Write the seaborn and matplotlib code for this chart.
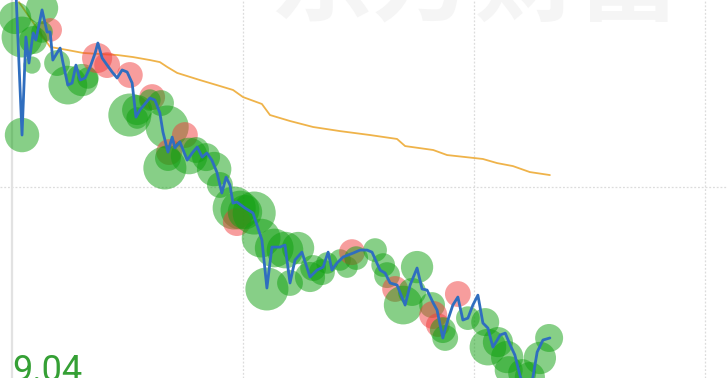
import matplotlib
matplotlib.use("Agg")
import matplotlib.pyplot as plt
import seaborn as sns
import pandas as pd

# ---- data (day index, price) ----
price_days = [1.0, 2.6, 3.6, 4.4, 5.5, 6.2, 7.8, 9.1, 9.9, 10.6, 11.7, 12.5, 13.2, 14.5, 15.6,
              16.6, 17.7, 19.0, 20.3, 21.6, 22.3, 23.4, 24.7, 26.0, 27.3, 28.6, 29.9, 31.2,
              32.2, 33.2, 34.3, 35.8, 37.1, 38.4, 39.2, 40.5, 41.6, 42.3, 43.6, 45.5, 46.8,
              48.1, 49.4, 50.6, 51.9, 53.2, 54.5, 55.6, 56.6, 57.4, 58.4, 60.5, 62.6, 64.9,
              66.2, 67.5, 69.6, 70.9, 72.2, 73.5, 75.3, 77.4, 79.2, 80.8, 82.1, 83.1, 84.4,
              86.0, 88.6, 90.4, 92.2, 93.5, 95.6, 96.9, 98.2, 100.0, 102.1, 103.4, 105.2,
              106.5, 107.8, 109.4, 110.4, 111.9, 113.2, 114.5, 115.8, 117.1, 118.4, 119.7,
              121.0, 122.3, 123.6, 124.9, 126.8, 128.1, 129.4, 130.6, 131.9, 133.5, 135.3,
              136.4, 137.9, 139.7]
price_close = [11.053, 10.278, 10.802, 10.663, 10.824, 10.786, 10.947, 10.829, 10.829, 10.679,
               10.717, 10.743, 10.668, 10.545, 10.556, 10.652, 10.572, 10.583, 10.642, 10.717,
               10.770, 10.690, 10.652, 10.615, 10.583, 10.626, 10.615, 10.556, 10.374, 10.412,
               10.439, 10.476, 10.465, 10.396, 10.294, 10.187, 10.267, 10.209, 10.241, 10.144,
               10.182, 10.214, 10.160, 10.182, 10.144, 10.080, 9.968, 10.053, 10.011, 9.914,
               9.920, 9.888, 9.861, 9.717, 9.460, 9.679, 9.679, 9.690, 9.487, 9.610, 9.652,
               9.519, 9.556, 9.572, 9.652, 9.556, 9.594, 9.626, 9.647, 9.663, 9.663, 9.652,
               9.556, 9.540, 9.487, 9.476, 9.369, 9.476, 9.567, 9.455, 9.449, 9.380, 9.342,
               9.193, 9.289, 9.369, 9.412, 9.289, 9.299, 9.369, 9.422, 9.273, 9.246, 9.144,
               9.209, 9.219, 9.155, 9.102, 8.995, 8.888, 8.984, 9.118, 9.182, 9.193]

ma_days = [1.8, 9.9, 14.3, 18.4, 22.9, 27.3, 31.4, 35.8, 38.4, 40.3, 42.9, 48.8, 53.2, 57.4,
           60.0, 64.9, 67.0, 72.2, 78.2, 85.2, 93.0, 100.0, 102.1, 109.4, 113.0, 122.3, 126.0,
           130.1, 134.5, 139.7]
ma_price = [10.989, 10.749, 10.733, 10.717, 10.711, 10.706, 10.695, 10.679, 10.668, 10.642,
            10.610, 10.572, 10.545, 10.519, 10.481, 10.444, 10.385, 10.353, 10.321, 10.299,
            10.278, 10.257, 10.219, 10.198, 10.171, 10.150, 10.128, 10.112, 10.080, 10.064]

bubble_days = [0.8, 7.8, 2.6, 5.2, 2.6, 9.9, 7.8, 5.5, 11.7, 14.5, 18.2, 19.7, 22.1, 24.7,
               30.6, 30.6, 32.5, 36.4, 38.7, 40.3, 44.9, 40.8, 39.7, 40.5, 46.0, 50.4, 52.5,
               57.7, 59.2, 58.4, 62.9, 64.7, 68.1, 70.9, 74.3, 66.2, 72.2, 77.4, 78.2, 81.8,
               85.2, 87.0, 88.3, 89.4, 94.3, 97.4, 99.5, 101.6, 105.2, 109.1, 109.4, 110.6,
               112.5, 115.8, 118.4, 122.9, 123.6, 128.6, 132.5, 134.5, 137.1, 139.5,
               54.0, 60.5, 80.5, 96.4, 103.9, 111.9, 126.2, 129.0, 32.5, 47.8, 35.8]
bubble_price = [10.904, 10.957, 10.802, 10.652, 10.278, 10.840, 10.829, 10.786, 10.663, 10.545,
                10.572, 10.583, 10.690, 10.652, 10.599, 10.385, 10.369, 10.481, 10.449, 10.321,
                10.278, 10.187, 10.102, 10.155, 10.166, 10.160, 10.096, 9.888, 9.877, 9.813,
                9.861, 9.727, 9.674, 9.663, 9.674, 9.455, 9.487, 9.519, 9.567, 9.594, 9.610,
                9.572, 9.652, 9.620, 9.663, 9.529, 9.455, 9.369, 9.572, 9.369, 9.316, 9.262,
                9.193, 9.428, 9.299, 9.278, 9.144, 9.091, 9.005, 8.984, 9.086, 9.193,
                10.011, 9.866, 9.545, 9.583, 9.439, 9.235, 9.171, 9.021, 10.412, 10.198, 10.465]
bubble_volume = [2250, 2250, 3610, 640, 2560, 1210, 1000, 1690, 1440, 3240, 2250, 1000, 1960,
                 1440, 1440, 4000, 1000, 1440, 1440, 4000, 1440, 1440, 4000, 1440, 2890, 1690,
                 2560, 4000, 3240, 1690, 4000, 3240, 3240, 2890, 2250, 4000, 1440, 1960, 1440,
                 1000, 1000, 1000, 1440, 1210, 1210, 1440, 1440, 3240, 2250, 1440, 1690, 1210,
                 1440, 1440, 1210, 1690, 2890, 2250, 1690, 1960, 2250, 1690,
                 1440, 2560, 1440, 1210, 1690, 1440, 1960, 1690, 1960, 1440, 1000]
bubble_dir = ["down", "down", "down", "down", "down", "up", "down", "down", "down", "down",
              "down", "down", "up", "up", "up", "down", "down", "up", "down", "down",
              "up", "up", "down", "down", "down", "down", "down", "down", "down", "up",
              "down", "down", "down", "down", "down", "down", "down", "down", "down", "down",
              "down", "down", "up", "down", "down", "down", "up", "down", "down", "down",
              "up", "up", "down", "up", "down", "down", "down", "down", "down", "down",
              "down", "down",
              "down", "down", "down", "down", "down", "down", "down", "down", "down", "down",
              "down"]

grid_days = [60, 120, 180]
grid_price = [10.0]
low_label = "9.04"
watermark = "东方财富"

# ---- figure ----
sns.set_theme(style="white")
plt.rcParams["font.family"] = ["Noto Sans CJK SC", "DejaVu Sans"]

fig = plt.figure(figsize=(7.27, 3.78), dpi=100)
ax = fig.add_axes([0, 0, 1, 1])
ax.set_xlim(-3.12, 185.7)
ax.set_ylim(8.979, 11.0)
ax.axis("off")

for d in grid_days:
    ax.axvline(d, color="#dcdcdc", lw=0.9, ls=(0, (1.5, 1.5)), zorder=0)
for p in grid_price:
    ax.axhline(p, color="#dcdcdc", lw=0.9, ls=(0, (1.5, 1.5)), zorder=0)
ax.axvline(0, color="#e2e2e2", lw=1.6, zorder=0)

ax.text(0.653, 0.905, watermark, transform=ax.transAxes, ha="center", va="bottom",
        fontsize=74, fontweight="bold", color="#f5f5f5", zorder=0)

ma_df = pd.DataFrame({"day": ma_days, "price": ma_price})
sns.lineplot(data=ma_df, x="day", y="price", sort=False, estimator=None, ax=ax,
             color="#efb34a", lw=1.3, zorder=2)

bub_df = pd.DataFrame({"day": bubble_days, "price": bubble_price,
                       "volume": bubble_volume, "dir": bubble_dir})
sns.scatterplot(data=bub_df, x="day", y="price", hue="dir", size="volume",
                palette={"down": "#10a010", "up": "#f03c3c"},
                sizes=(0, 960), size_norm=(0, 4000), alpha=0.5, linewidth=0,
                legend=False, ax=ax, zorder=3)

px_df = pd.DataFrame({"day": price_days, "price": price_close})
sns.lineplot(data=px_df, x="day", y="price", sort=False, estimator=None, ax=ax,
             color="#2f6ebf", lw=2.0, zorder=4)

ax.text(0.0165, -0.008, low_label, transform=ax.transAxes, ha="left", va="baseline",
        fontsize=26, color="#35a035", family=["Roboto", "DejaVu Sans"], zorder=5)

fig.savefig("out.png", dpi=100)
